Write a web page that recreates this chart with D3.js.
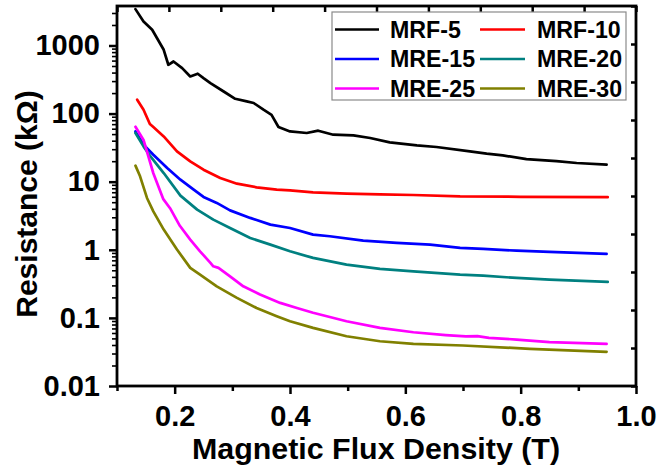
<!DOCTYPE html>
<html><head><meta charset="utf-8">
<script src="https://cdn.jsdelivr.net/npm/d3@7"></script>
<style>
html,body{margin:0;padding:0;background:#fff;}
svg text{font-family:Arial,"Liberation Sans",sans-serif;font-weight:bold;fill:#000;}
</style></head>
<body>
<svg id="chart" width="671" height="468"></svg>
<script>
// ---- data ----
const seriesNames = ["MRF-5","MRF-10","MRE-15","MRE-20","MRE-25","MRE-30"];
const seriesColors = ["#000000","#ff0000","#0000ff","#008080","#ff00ff","#808000"];

const mrf5X = [0.132,0.146,0.161,0.181,0.189,0.198,0.213,0.227,0.240,0.250,0.262,0.285,0.305,0.325,0.337,0.354,0.368,0.380,0.400,0.429,0.449,0.475,0.510,0.539,0.573,0.620,0.654,0.712,0.741,0.769,0.810,0.862,0.897,0.949];
const mrf5Y = [3420,2250,1700,865,521,582,466,351,385,332,281,211,165,151,143,114,96,63.5,54.7,51.9,56.1,49,47.8,43.8,37.8,34.1,32.3,27.9,25.8,24.3,21.5,20.1,18.8,17.8];

const mrf10X = [0.135,0.146,0.157,0.163,0.181,0.204,0.227,0.250,0.279,0.308,0.342,0.377,0.400,0.440,0.498,0.556,0.614,0.695,0.800,0.951];
const mrf10Y = [160,114,70.3,63.5,46.2,27.9,19.9,15.0,11.3,9.35,8.26,7.64,7.46,6.97,6.67,6.52,6.38,6.09,6.0,5.93];

const mre15X = [0.132,0.146,0.163,0.187,0.210,0.233,0.250,0.273,0.296,0.331,0.366,0.400,0.440,0.469,0.527,0.585,0.643,0.695,0.735,0.793,0.850,0.949];
const mre15Y = [54.7,34.9,24.9,15.9,10.7,7.64,5.97,4.88,3.79,2.94,2.34,2.09,1.67,1.58,1.36,1.26,1.19,1.07,1.03,0.97,0.93,0.87];

const mre20X = [0.132,0.146,0.158,0.181,0.210,0.239,0.267,0.296,0.331,0.366,0.400,0.440,0.498,0.556,0.614,0.695,0.735,0.793,0.850,0.951];
const mre20Y = [51.9,33,23.5,13.4,6.24,3.89,2.77,2.09,1.49,1.19,0.95,0.76,0.607,0.524,0.483,0.432,0.418,0.386,0.365,0.338];

const mre25X = [0.132,0.146,0.163,0.180,0.192,0.209,0.227,0.244,0.262,0.267,0.276,0.296,0.319,0.348,0.383,0.412,0.440,0.498,0.556,0.614,0.670,0.705,0.725,0.745,0.793,0.850,0.949];
const mre25Y = [64,41,13.3,5.6,4.08,2.25,1.41,0.95,0.643,0.573,0.542,0.408,0.291,0.22,0.166,0.140,0.119,0.0893,0.0714,0.0615,0.056,0.0535,0.054,0.051,0.0481,0.044,0.0416];

const mre30X = [0.132,0.140,0.152,0.163,0.181,0.204,0.227,0.244,0.273,0.308,0.342,0.377,0.400,0.440,0.498,0.556,0.614,0.700,0.816,0.949];
const mre30Y = [17.2,12,5.77,3.67,1.98,1.01,0.542,0.432,0.291,0.197,0.140,0.106,0.0893,0.0714,0.0538,0.0454,0.0416,0.0393,0.0352,0.0318];

const xTickValues = [0.2,0.4,0.6,0.8,1.0];
const xTickLabels = ["0.2","0.4","0.6","0.8","1.0"];
const xMinorValues = [0.1,0.3,0.5,0.7,0.9];
const yTickValues = [0.01,0.1,1,10,100,1000];
const yTickLabels = ["0.01","0.1","1","10","100","1000"];

const xLabel = "Magnetic Flux Density (T)";
const yLabel = "Resistance (kΩ)";

// ---- layout ----
const L = 117, R = 636, T = 6, B = 386;
const svg = d3.select("#chart");

const x = d3.scaleLinear().domain([0.1, 1.0]).range([L, R]);
const y = d3.scaleLog().domain([0.01, 3800]).range([B, T]);

const allX = [mrf5X,mrf10X,mre15X,mre20X,mre25X,mre30X];
const allY = [mrf5Y,mrf10Y,mre15Y,mre20Y,mre25Y,mre30Y];

svg.append("defs").append("clipPath").attr("id","clip")
  .append("rect").attr("x",L).attr("y",T).attr("width",R-L).attr("height",B-T);

const line = d3.line().x(d=>x(d[0])).y(d=>y(d[1]));
const gLines = svg.append("g").attr("clip-path","url(#clip)");
seriesNames.forEach((n,i)=>{
  const pts = allX[i].map((v,j)=>[v, allY[i][j]]);
  gLines.append("path").datum(pts).attr("d",line)
    .attr("fill","none").attr("stroke",seriesColors[i])
    .attr("stroke-width",2.7).attr("stroke-linejoin","round").attr("stroke-linecap","round");
});

function styleAxis(g, w){
  g.select(".domain").remove();
  g.selectAll(".tick line").attr("stroke","#000").attr("stroke-width",w);
}

const gxB = svg.append("g").attr("transform",`translate(0,${B})`)
  .call(d3.axisBottom(x).tickValues(xTickValues).tickSize(8).tickPadding(11)
    .tickFormat((d,i)=>xTickLabels[i]));
styleAxis(gxB, 2.5);
gxB.selectAll("text").style("font-size","29px");
const gxBm = svg.append("g").attr("transform",`translate(0,${B})`)
  .call(d3.axisBottom(x).tickValues(xMinorValues).tickSize(5).tickFormat(""));
styleAxis(gxBm, 2.5);

const xTop = d3.scaleLinear().domain([0,10]).range([L,R]);
const gxT = svg.append("g").attr("transform",`translate(0,${T})`)
  .call(d3.axisBottom(xTop).ticks(10).tickSize(6).tickFormat(""));
styleAxis(gxT, 2.5);

const gyL = svg.append("g").attr("transform",`translate(${L},0)`)
  .call(d3.axisLeft(y).tickValues(yTickValues).tickSize(8).tickPadding(9)
    .tickFormat((d,i)=>yTickLabels[i]));
styleAxis(gyL, 2.5);
gyL.selectAll("text").style("font-size","29px");
const minorY = [];
yTickValues.forEach(d=>{ for(let k=2;k<=9;k++){ const v=d*k; if(v<=3800) minorY.push(v);} });
const gyLm = svg.append("g").attr("transform",`translate(${L},0)`)
  .call(d3.axisLeft(y).tickValues(minorY).tickSize(5).tickFormat(""));
styleAxis(gyLm, 1.6);

const yRight = d3.scaleLinear().domain([0,10]).range([B,T]);
const gyR = svg.append("g").attr("transform",`translate(${R},0)`)
  .call(d3.axisLeft(yRight).ticks(10).tickSize(5).tickFormat(""));
styleAxis(gyR, 2.5);

svg.append("rect").attr("x",L).attr("y",T).attr("width",R-L).attr("height",B-T)
  .attr("fill","none").attr("stroke","#000").attr("stroke-width",2.8);

svg.append("text").attr("x",376).attr("y",459).attr("text-anchor","middle")
  .style("font-size","30.4px").text(xLabel);
svg.append("text").attr("transform","translate(36.5,204) rotate(-90)")
  .attr("text-anchor","middle").style("font-size","30px").text(yLabel);

const lg = svg.append("g");
lg.append("rect").attr("x",332).attr("y",12).attr("width",294).attr("height",88)
  .attr("fill","#fff").attr("stroke","#8a8a8a").attr("stroke-width",1.2);
const colLine = [[335,379],[480,525]];
const colText = [390,537];
seriesNames.forEach((n,i)=>{
  const row = Math.floor(i/2), col = i%2;
  const yy = 29.5 + row*29.5;
  lg.append("line").attr("x1",colLine[col][0]).attr("x2",colLine[col][1])
    .attr("y1",yy).attr("y2",yy).attr("stroke",seriesColors[i]).attr("stroke-width",2.6);
  lg.append("text").attr("x",colText[col]).attr("y",yy).attr("dy","0.36em")
    .style("font-size","23.2px").text(n);
});
</script>
</body></html>
